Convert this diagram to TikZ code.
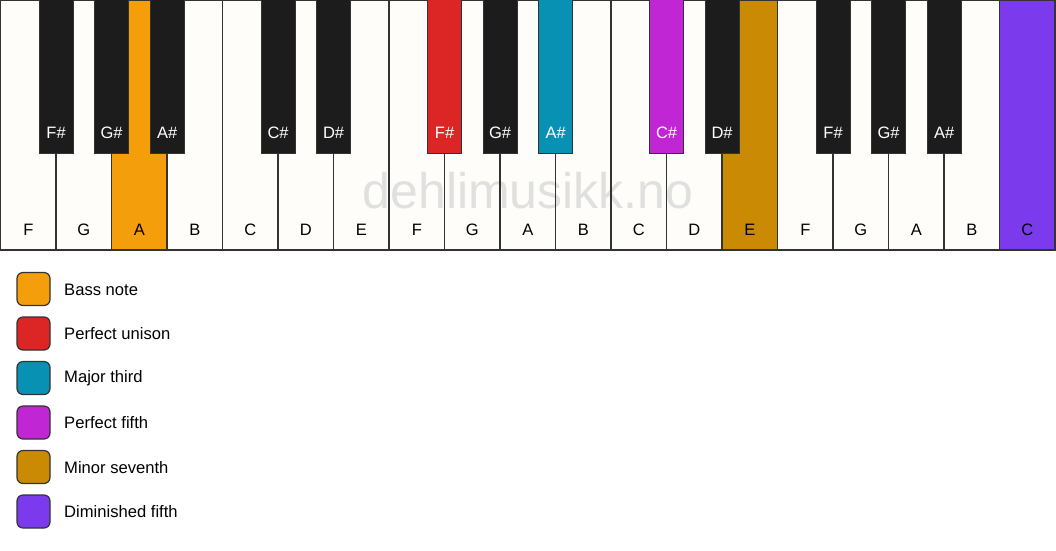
\documentclass[tikz,border=0pt]{standalone}
\usepackage{fontspec}
\setmainfont{Liberation Sans}
\definecolor{ivory}{HTML}{FFFDF9}
\definecolor{keyblack}{HTML}{1C1C1C}
\definecolor{edge}{HTML}{333333}
\definecolor{cbass}{HTML}{F59E0B}
\definecolor{cunison}{HTML}{DC2626}
\definecolor{cthird}{HTML}{0891B2}
\definecolor{cfifth}{HTML}{C026D3}
\definecolor{cseventh}{HTML}{CA8A04}
\definecolor{cdim}{HTML}{7C3AED}
\definecolor{wm}{HTML}{E0E0E0}
\tikzset{
  whitekey/.style={draw=edge, line width=1.3pt},
  blackkey/.style={draw=edge, line width=0.8pt},
  wlabel/.style={font=\fontsize{16.5}{16.5}\selectfont, text=black, inner sep=0pt},
  blabel/.style={font=\fontsize{16.5}{16.5}\selectfont, text=white, inner sep=0pt},
  swatch/.style={draw=edge, line width=1.2pt, rounded corners=6pt, minimum width=33pt, minimum height=33pt, inner sep=0pt},
  legtext/.style={font=\fontsize{16.6}{16.6}\selectfont, anchor=west, inner sep=0pt},
}
\begin{document}
\begin{tikzpicture}[x=1pt,y=-1pt]
\useasboundingbox[fill=white] (0,0) rectangle (1056,550);
\def\kw{55.5}
% white key fills
\foreach \i/\c in {0/ivory,1/ivory,2/cbass,3/ivory,4/ivory,5/ivory,6/ivory,7/ivory,8/ivory,9/ivory,10/ivory,11/ivory,12/ivory,13/cseventh,14/ivory,15/ivory,16/ivory,17/ivory,18/cdim}{
  \fill[\c] ({0.6+\i*\kw},0) rectangle ({0.6+(\i+1)*\kw},250);
}
% watermark
\node[text=wm, font=\fontsize{50}{50}\selectfont, anchor=base, inner sep=0pt] (wmark) at (528,208) {dehlimusikk.no};
% white key outlines and labels
\foreach \i/\n in {0/F,1/G,2/A,3/B,4/C,5/D,6/E,7/F,8/G,9/A,10/B,11/C,12/D,13/E,14/F,15/G,16/A,17/B,18/C}{
  \draw[whitekey] ({0.6+\i*\kw},0) rectangle ({0.6+(\i+1)*\kw},250);
  \node[wlabel] (w\i) at ({0.6+(\i+0.5)*\kw},230) {\n};
}
% black keys
\foreach \b/\n/\c in {1/F\#/keyblack,2/G\#/keyblack,3/A\#/keyblack,5/C\#/keyblack,6/D\#/keyblack,8/F\#/cunison,9/G\#/keyblack,10/A\#/cthird,12/C\#/cfifth,13/D\#/keyblack,15/F\#/keyblack,16/G\#/keyblack,17/A\#/keyblack}{
  \draw[blackkey, fill=\c] ({0.6+\b*\kw-17},-1) rectangle ({0.6+\b*\kw+17},153);
  \node[blabel] (b\b) at ({0.6+\b*\kw},133) {\n};
}
% legend
\foreach \k/\c/\t in {0/cbass/Bass note,1/cunison/Perfect unison,2/cthird/Major third,3/cfifth/Perfect fifth,4/cseventh/Minor seventh,5/cdim/Diminished fifth}{
  \node[swatch, fill=\c] (s\k) at (33.5,{289+\k*44.5}) {};
  \node[legtext] (t\k) at (64,{289.5+\k*44.5}) {\t};
}
\end{tikzpicture}
\end{document}
